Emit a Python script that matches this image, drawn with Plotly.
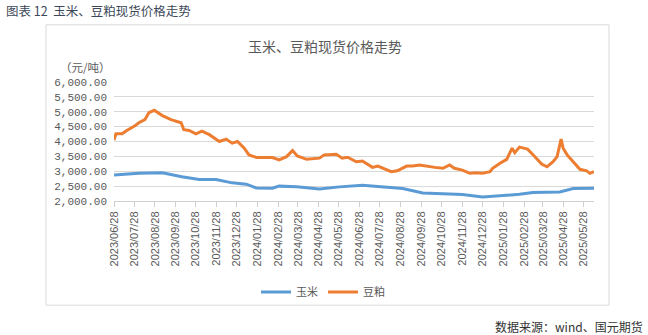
import plotly.graph_objects as go

# 豆粕 (soybean meal) spot price
meal_dates = ["2023-06-28","2023-07-01","2023-07-10","2023-07-17","2023-07-28","2023-08-04","2023-08-13",
              "2023-08-19","2023-08-27","2023-09-08","2023-09-21","2023-10-06","2023-10-10","2023-10-18",
              "2023-10-28","2023-11-06","2023-11-17","2023-12-02","2023-12-12","2023-12-21","2023-12-29",
              "2024-01-08","2024-01-15","2024-01-27","2024-02-19","2024-02-29","2024-03-11","2024-03-20",
              "2024-03-27","2024-04-10","2024-04-29","2024-05-06","2024-05-24","2024-06-02","2024-06-10",
              "2024-06-23","2024-07-02","2024-07-17","2024-07-25","2024-08-14","2024-08-23","2024-09-06",
              "2024-09-15","2024-09-25","2024-10-18","2024-10-30","2024-11-09","2024-11-16","2024-11-28",
              "2024-12-09","2024-12-19","2024-12-28","2025-01-08","2025-01-12","2025-01-23","2025-02-02",
              "2025-02-10","2025-02-14","2025-02-21","2025-03-05","2025-03-16","2025-03-26","2025-04-03",
              "2025-04-12","2025-04-18","2025-04-24","2025-04-27","2025-05-03","2025-05-12","2025-05-22",
              "2025-06-01","2025-06-06","2025-06-12"]
meal_vals = [4050,4260,4260,4370,4510,4630,4735,
             4970,5050,4870,4735,4630,4395,4370,
             4260,4350,4230,4000,4080,3945,4000,
             3775,3550,3460,3460,3380,3490,3695,
             3515,3400,3440,3550,3570,3440,3470,
             3320,3345,3130,3175,2985,3015,3175,
             3175,3210,3130,3100,3210,3100,3040,
             2930,2950,2930,2985,3100,3270,3400,
             3775,3625,3810,3745,3490,3245,3150,
             3320,3490,4080,3775,3550,3320,3065,
             3015,2930,2985]

# 玉米 (corn) spot price
corn_dates = ["2023-06-28","2023-08-04","2023-09-08","2023-10-07","2023-11-02","2023-11-27","2023-12-21",
              "2024-01-11","2024-01-26","2024-02-19","2024-02-29","2024-03-26","2024-04-29","2024-05-29",
              "2024-07-02","2024-07-28","2024-08-31","2024-09-30","2024-11-05","2024-11-28","2024-12-28",
              "2025-01-12","2025-02-02","2025-02-21","2025-03-13","2025-04-22","2025-05-12","2025-06-12"]
corn_vals = [2870,2930,2950,2815,2725,2725,2610,
             2565,2440,2430,2500,2475,2400,2475,
             2530,2475,2420,2270,2250,2215,2135,
             2160,2190,2225,2285,2305,2420,2430]

tick_dates = ["2023-06-28","2023-07-28","2023-08-28","2023-09-28","2023-10-28","2023-11-28","2023-12-28",
              "2024-01-28","2024-02-28","2024-03-28","2024-04-28","2024-05-28","2024-06-28","2024-07-28",
              "2024-08-28","2024-09-28","2024-10-28","2024-11-28","2024-12-28","2025-01-28","2025-02-28",
              "2025-03-28","2025-04-28","2025-05-28"]
tick_labels = [d.replace("-", "/") for d in tick_dates]
y_ticks = [2000, 2500, 3000, 3500, 4000, 4500, 5000, 5500, 6000]
y_labels = [f"{v:,.2f}" for v in y_ticks]

CJK = "Noto Sans CJK SC"
GRAY = "#595959"

fig = go.Figure()
fig.add_trace(go.Scatter(x=corn_dates, y=corn_vals, mode="lines", name="玉米",
                         line=dict(color="#5b9bd5", width=3)))
fig.add_trace(go.Scatter(x=meal_dates, y=meal_vals, mode="lines", name="豆粕",
                         line=dict(color="#ed7d31", width=3)))

# pixel -> paper helpers (plot area: x 114..594, y 82.7..200.7)
def px(x):
    return (x - 114) / 480.0

def py(y):
    return (200.7 - y) / 118.0

fig.update_layout(
    width=648, height=335,
    margin=dict(l=114, r=54, t=82.3, b=134.3),
    paper_bgcolor="white", plot_bgcolor="white",
    showlegend=True,
    legend=dict(orientation="h", x=px(323), y=py(291), xanchor="center", yanchor="middle",
                font=dict(family=CJK, size=11, color=GRAY), itemwidth=30,
                bgcolor="rgba(0,0,0,0)"),
    xaxis=dict(type="date", range=["2023-06-28", "2025-06-12"],
               tickvals=tick_dates, ticktext=tick_labels, tickangle=-90,
               tickfont=dict(family="Liberation Sans", size=11, color=GRAY),
               ticks="outside", ticklen=5, tickcolor="#d0d0d0",
               showline=True, linecolor="#d0d0d0", linewidth=1,
               showgrid=False, zeroline=False, fixedrange=True),
    yaxis=dict(range=[2000, 6000], tickvals=y_ticks, ticktext=y_labels,
               tickfont=dict(family="Liberation Mono", size=11, color=GRAY),
               showgrid=True, gridcolor="#d9d9d9", gridwidth=1,
               showline=False, zeroline=False, ticks="", ticklabelstandoff=6),
)

# outer frame
fig.add_shape(type="rect", xref="paper", yref="paper",
              x0=px(46), x1=px(609), y0=py(304), y1=py(26),
              line=dict(color="#d9d9d9", width=1), fillcolor="rgba(0,0,0,0)", layer="below")

fig.add_annotation(text="图表 12  玉米、豆粕现货价格走势", xref="paper", yref="paper",
                   x=px(4), y=py(12), xanchor="left", yanchor="middle", showarrow=False,
                   font=dict(family=CJK, size=12.5, color="#3c4858"))
fig.add_annotation(text="玉米、豆粕现货价格走势", xref="paper", yref="paper",
                   x=px(325), y=py(47), xanchor="center", yanchor="middle", showarrow=False,
                   font=dict(family=CJK, size=14, color=GRAY))
fig.add_annotation(text="（元/吨）", xref="paper", yref="paper",
                   x=px(113), y=py(68), xanchor="right", yanchor="middle", showarrow=False,
                   font=dict(family=CJK, size=11.5, color=GRAY))
fig.add_annotation(text="数据来源：wind、国元期货", xref="paper", yref="paper",
                   x=px(645), y=py(325), xanchor="right", yanchor="middle", showarrow=False,
                   font=dict(family=CJK, size=12, color="#333333"))

fig.write_html("out.html")
